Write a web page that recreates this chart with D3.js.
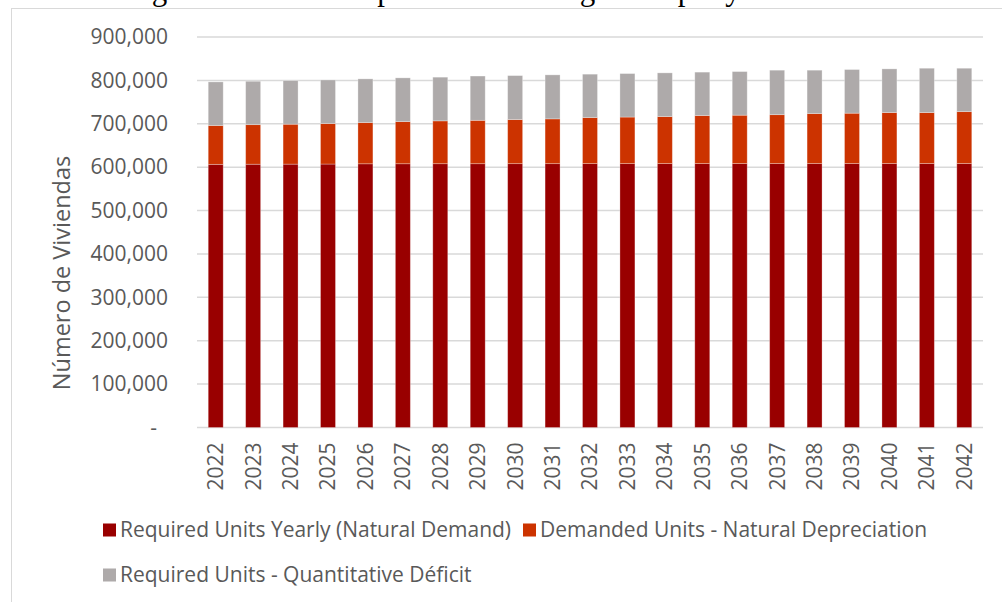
<!DOCTYPE html>
<html>
<head>
<meta charset="utf-8">
<style>
  body { margin: 0; background: #fff; }
  svg { display: block; }
  .lbl { font-family: "Open Sans", sans-serif; fill: #595959; }
</style>
</head>
<body>
<svg id="chart" width="1002" height="602"></svg>
<script src="https://d3js.org/d3.v7.min.js"></script>
<script>
// años del eje x
var years = ["2022","2023","2024","2025","2026","2027","2028","2029","2030","2031","2032",
             "2033","2034","2035","2036","2037","2038","2039","2040","2041","2042"];
// series (viviendas por año)
var naturalDemand = [606500,606800,607000,607200,607800,607900,608000,608000,608100,608100,608200,
                     608200,608300,608300,608300,608300,608400,608400,608400,608400,608400];
var depreciation  = [89500,91200,92000,93300,95000,97100,98700,100000,101600,103200,106100,
                     107300,108300,110700,111500,112700,115100,116000,117400,117400,119600];
var deficit       = [100500,100000,100500,100500,100700,100800,100700,102000,101300,101400,100000,
                     100200,100700,100000,100500,102500,100000,100600,100700,102200,100000];
var seriesNames = ["Required Units Yearly (Natural Demand)",
                   "Demanded Units - Natural Depreciation",
                   "Required Units - Quantitative Déficit"];
var colors = ["#990000", "#CC3300", "#AEAAAA"];
var yTicks = [0,100000,200000,300000,400000,500000,600000,700000,800000,900000];

var svg = d3.select("#chart");

// marco del gráfico
svg.append("rect").attr("x", 11.5).attr("y", 8.5).attr("width", 1100).attr("height", 700)
  .attr("fill", "none").attr("stroke", "#d9d9d9");

// título (cortado arriba, solo se ven los trazos inferiores)
svg.append("text").attr("x", 126).attr("y", 0)
  .style("font-family", "'Liberation Serif', serif").style("font-size", "31px").attr("fill", "#000")
  .text("Figure 4: Total Components: Housing Units per year");

var pLeft = 197, pRight = 983, pTop = 37, pBottom = 427.5;
var x = d3.scaleBand().domain(years).range([pLeft, pRight]).paddingInner(0.6).paddingOuter(0.3);
var y = d3.scaleLinear().domain([0, 900000]).range([pBottom, pTop]);

// rejilla
svg.append("g").selectAll("line").data(yTicks).join("line")
  .attr("x1", pLeft).attr("x2", pRight)
  .attr("y1", function(d){ return y(d); }).attr("y2", function(d){ return y(d); })
  .attr("stroke", "#d9d9d9").attr("stroke-width", 1.5);

// barras apiladas
var rows = years.map(function(yr, i){
  return { year: yr, s0: naturalDemand[i], s1: depreciation[i], s2: deficit[i] };
});
var stack = d3.stack().keys(["s0","s1","s2"])(rows);
svg.append("g").selectAll("g").data(stack).join("g")
  .attr("fill", function(d, i){ return colors[i]; })
  .selectAll("rect").data(function(d){ return d; }).join("rect")
  .attr("x", function(d){ return x(d.data.year); })
  .attr("width", x.bandwidth())
  .attr("y", function(d){ return y(d[1]); })
  .attr("height", function(d){ return y(d[0]) - y(d[1]); })
  .attr("stroke", "#ffffff").attr("stroke-opacity", 0.35).attr("stroke-width", 0.8);

// eje y
var yAxis = d3.axisLeft(y).tickValues(yTicks).tickSize(0).tickPadding(29)
  .tickFormat(function(d){ return d === 0 ? "-" : d3.format(",")(d); });
var gy = svg.append("g").attr("transform", "translate(" + pLeft + ",0)").call(yAxis);
gy.select(".domain").remove();
gy.selectAll("text").attr("class", "lbl").style("font-size", "21px").attr("fill", "#595959")
  .attr("x", function(d){ return d === 0 ? -40 : -29; });

// eje x
var xAxis = d3.axisBottom(x).tickSize(0).tickPadding(0);
var gx = svg.append("g").attr("transform", "translate(0," + pBottom + ")").call(xAxis);
gx.select(".domain").remove();
gx.selectAll("text").attr("class", "lbl").style("font-size", "21px").attr("fill", "#595959")
  .attr("transform", "rotate(-90)").attr("x", -15).attr("y", 0).attr("dy", "0.35em")
  .attr("text-anchor", "end");

// título eje y
svg.append("text").attr("class", "lbl").style("font-size", "23.5px")
  .attr("transform", "translate(62,273) rotate(-90)")
  .attr("text-anchor", "middle").attr("dy", "0.35em")
  .text("Número de Viviendas");

// leyenda
var legendPos = [[103, 530], [523, 530], [103, 575]];
var lg = svg.append("g").selectAll("g").data(seriesNames).join("g")
  .attr("transform", function(d, i){ return "translate(" + legendPos[i][0] + "," + legendPos[i][1] + ")"; });
lg.append("rect").attr("x", 0).attr("y", -6.5).attr("width", 13).attr("height", 13)
  .attr("fill", function(d, i){ return colors[i]; });
lg.append("text").attr("class", "lbl").style("font-size", "21px")
  .attr("x", 17).attr("dy", "0.35em").text(function(d){ return d; });
</script>
</body>
</html>
